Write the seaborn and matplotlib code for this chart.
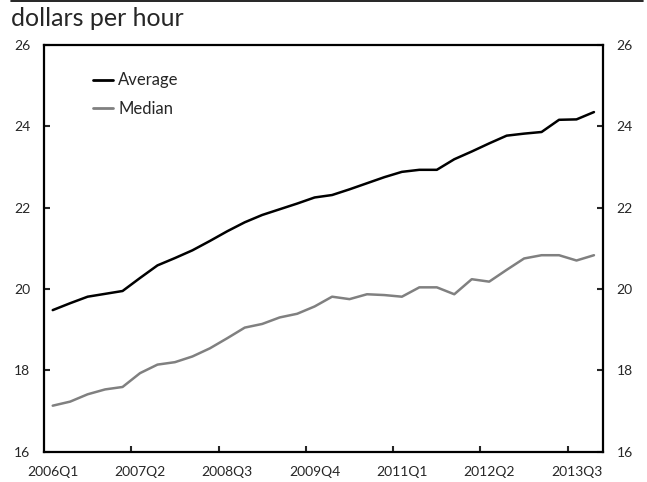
"""Average vs median hourly earnings, quarterly 2006Q1-2013Q4."""
import matplotlib
matplotlib.use("Agg")
import matplotlib.pyplot as plt
from matplotlib.lines import Line2D
import seaborn as sns
import pandas as pd
import numpy as np

# quarters 2006Q1 .. 2013Q4
quarters = [f"{y}Q{q}" for y in range(2006, 2014) for q in range(1, 5)]

average = [19.48, 19.65, 19.81, 19.88, 19.95, 20.27, 20.58, 20.76,
           20.95, 21.18, 21.42, 21.64, 21.82, 21.96, 22.10, 22.25,
           22.31, 22.45, 22.60, 22.75, 22.88, 22.93, 22.93, 23.19,
           23.38, 23.58, 23.77, 23.82, 23.86, 24.16, 24.17, 24.35]

median = [17.13, 17.23, 17.41, 17.53, 17.59, 17.93, 18.14, 18.20,
          18.34, 18.54, 18.79, 19.05, 19.14, 19.30, 19.39, 19.57,
          19.81, 19.75, 19.87, 19.85, 19.81, 20.04, 20.04, 19.87,
          20.24, 20.18, 20.47, 20.75, 20.83, 20.83, 20.70, 20.83]

y_ticks = [16, 18, 20, 22, 24, 26]

sns.set_style("white")
plt.rcParams["font.family"] = ["Lato", "DejaVu Sans"]

df = pd.DataFrame({
    "idx": list(range(len(quarters))) * 2,
    "value": average + median,
    "series": ["Average"] * len(quarters) + ["Median"] * len(quarters),
})

fig = plt.figure(figsize=(6.47, 4.82), dpi=100)
ax = fig.add_axes([0.068, 0.063, 0.8635, 0.8437])

sns.lineplot(data=df, x="idx", y="value", hue="series",
             palette={"Average": "black", "Median": "#808080"},
             linewidth=1.8, ax=ax)

ax.set_xlim(-0.5, len(quarters) - 0.5)
ax.set_ylim(16, 26)
ax.set_xlabel("")
ax.set_ylabel("")

# labels on every 5th quarter, tick marks between categories
label_pos = np.arange(0, len(quarters), 5)
ax.set_xticks(label_pos)
ax.set_xticklabels([quarters[i] for i in label_pos], fontsize=10)
ax.set_xticks(label_pos[1:] - 0.5, minor=True)
ax.tick_params(axis="x", which="major", length=0, pad=10)
ax.tick_params(axis="x", which="minor", direction="in", length=4,
               width=1.5, bottom=True)

ax.set_yticks(y_ticks)
ax.tick_params(axis="y", direction="in", length=4, width=1.5,
               left=True, right=True, labelleft=True, labelright=True,
               labelsize=10, pad=10)

for side in ["left", "right", "top", "bottom"]:
    ax.spines[side].set_visible(True)
    ax.spines[side].set_linewidth(1.6)
    ax.spines[side].set_color("black")

leg = ax.legend(loc="upper left", bbox_to_anchor=(0.073, 0.953),
                frameon=False, fontsize=12, handlelength=1.2,
                handletextpad=0.3, labelspacing=0.75, borderpad=0)
for line in leg.get_lines():
    line.set_linewidth(2.0)

fig.text(0.017, 1 - 26 / 482, "dollars per hour", fontsize=18,
         va="baseline", ha="left")
fig.add_artist(Line2D([0.017, 0.994], [0.998, 0.998], color="black",
                      linewidth=1.2, transform=fig.transFigure))

fig.savefig("out.png", dpi=100)
